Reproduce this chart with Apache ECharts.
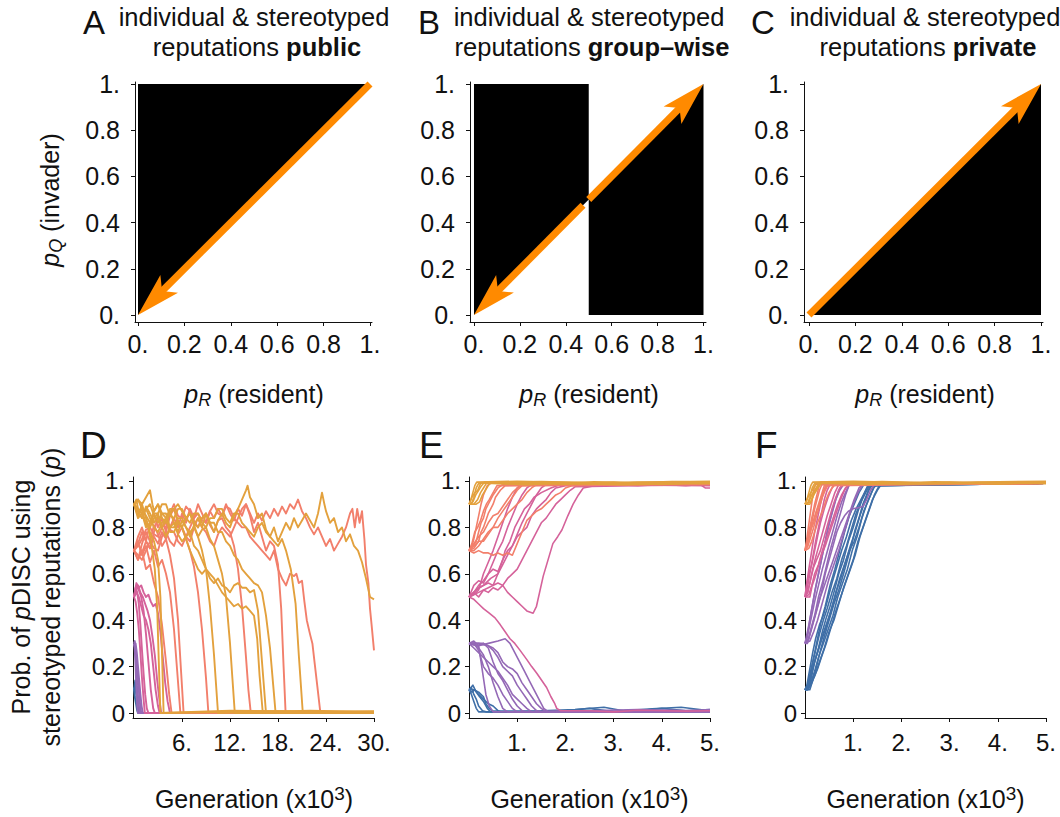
<!DOCTYPE html>
<html><head><meta charset="utf-8">
<script src="https://cdn.jsdelivr.net/npm/echarts@6/dist/echarts.min.js"></script>
<style>html,body{margin:0;padding:0;background:#fff}#c{width:1060px;height:817px}</style>
</head><body><div id="c"></div>
<script>
// ---------- tick values / labels ----------
const topTicks = [0, 0.2, 0.4, 0.6, 0.8, 1];
const topTickLabels = ['0.', '0.2', '0.4', '0.6', '0.8', '1.'];
const botYTicks = [0, 0.2, 0.4, 0.6, 0.8, 1];
const botYLabels = ['0', '0.2', '0.4', '0.6', '0.8', '1.'];
const dXTicks = [6, 12, 18, 24, 30];
const dXLabels = ['6.', '12.', '18.', '24.', '30.'];
const efXTicks = [1, 2, 3, 4, 5];
const efXLabels = ['1.', '2.', '3.', '4.', '5.'];

// ---------- panels A-C: regions (polygons in data space) and arrows ----------
const regionsA = [[[0,0],[0,1],[1,1]]];
const regionsB = [[[0,0],[0,1],[0.5,1],[0.5,0.5]], [[0.5,0],[0.5,0.5],[1,1],[1,0]]];
const regionsC = [[[0,0],[1,1],[1,0]]];
const arrowsA = [[[1,1],[0,0]]];
const arrowsB = [[[0.475,0.475],[0,0]], [[0.5,0.5],[1,1]]];
const arrowsC = [[[0,0],[1,1]]];

// ---------- panel D (generation x10^3, 0-30) ----------
const D_blue = [
 [[0,0.1],[0.15,0.14],[0.3,0.1],[0.45,0.05],[0.6,0.02],[0.75,0],[30,0]],
 [[0,0.1],[0.1,0.07],[0.25,0.04],[0.4,0.01],[0.5,0],[30,0]],
 [[0,0.1],[0.2,0.12],[0.35,0.08],[0.5,0.03],[0.65,0],[30,0]],
 [[0,0.1],[0.1,0.11],[0.25,0.09],[0.4,0.06],[0.55,0.02],[0.7,0],[30,0]]
];
const D_purple = [
 [[0,0.3],[0.1,0.31],[0.2,0.26],[0.3,0.2],[0.4,0.12],[0.55,0.05],[0.7,0],[30,0]],
 [[0,0.3],[0.15,0.28],[0.3,0.24],[0.45,0.18],[0.6,0.1],[0.75,0.04],[0.9,0],[30,0]],
 [[0,0.3],[0.1,0.27],[0.2,0.2],[0.3,0.1],[0.4,0.03],[0.5,0],[30,0]],
 [[0,0.3],[0.2,0.3],[0.35,0.26],[0.5,0.2],[0.65,0.14],[0.8,0.08],[0.95,0.03],[1.1,0],[30,0]]
];
const D_pink = [
 [[0,0.5],[0.2,0.54],[0.4,0.52],[0.6,0.47],[0.8,0.38],[1,0.27],[1.2,0.17],[1.4,0.08],[1.6,0.02],[1.8,0],[30,0]],
 [[0,0.5],[0.3,0.55],[0.6,0.53],[0.9,0.5],[1.2,0.44],[1.5,0.34],[1.8,0.22],[2.1,0.1],[2.4,0.02],[2.6,0],[30,0]],
 [[0,0.5],[0.25,0.53],[0.5,0.55],[0.8,0.52],[1.1,0.5],[1.4,0.47],[1.7,0.44],[2,0.4],[2.3,0.33],[2.6,0.25],[2.9,0.14],[3.2,0.05],[3.4,0],[30,0]],
 [[0,0.5],[0.3,0.56],[0.6,0.54],[0.9,0.55],[1.2,0.52],[1.5,0.5],[1.8,0.51],[2.1,0.48],[2.4,0.46],[2.7,0.47],[3,0.43],[3.3,0.35],[3.6,0.24],[3.9,0.13],[4.2,0.05],[4.5,0],[30,0]],
 [[0,0.5],[0.2,0.48],[0.4,0.43],[0.6,0.36],[0.8,0.26],[1,0.15],[1.2,0.06],[1.35,0],[30,0]],
 [[0,0.5],[0.3,0.52],[0.6,0.5],[0.9,0.46],[1.2,0.42],[1.5,0.4],[1.8,0.36],[2.1,0.3],[2.4,0.2],[2.7,0.1],[3,0.03],[3.2,0],[30,0]]
];
const D_salmon = [
 [[0,0.7],[0.5,0.66],[1,0.7],[1.5,0.62],[2,0.64],[2.5,0.56],[3,0.5],[3.5,0.38],[4,0.22],[4.4,0.08],[4.7,0],[30,0]],
 [[0,0.7],[0.5,0.74],[1,0.68],[1.5,0.72],[2,0.65],[2.5,0.7],[3,0.63],[3.5,0.66],[4,0.6],[4.5,0.52],[5,0.36],[5.4,0.18],[5.8,0],[30,0]],
 [[0,0.7],[0.5,0.66],[1,0.73],[1.5,0.78],[2,0.74],[2.5,0.81],[3,0.77],[3.5,0.72],[4,0.75],[4.5,0.68],[5,0.58],[5.5,0.4],[5.9,0.17],[6.2,0],[30,0]],
 [[0,0.7],[0.5,0.76],[1,0.8],[1.5,0.74],[2,0.82],[2.5,0.86],[3,0.8],[3.5,0.84],[4,0.78],[4.5,0.85],[5,0.88],[5.5,0.82],[6,0.8],[6.5,0.75],[7,0.7],[7.5,0.63],[8,0.52],[8.5,0.36],[9,0.15],[9.3,0],[30,0]],
 [[0,0.7],[0.5,0.73],[1,0.78],[1.5,0.74],[2,0.71],[2.5,0.78],[3,0.85],[3.5,0.81],[4,0.8],[4.5,0.86],[5,0.9],[5.5,0.85],[6,0.84],[6.5,0.89],[7,0.87],[7.5,0.83],[8,0.8],[8.5,0.84],[9,0.86],[9.5,0.81],[10,0.78],[10.5,0.83],[11,0.84],[11.5,0.8],[12,0.78],[12.5,0.72],[13,0.62],[13.5,0.46],[14,0.24],[14.3,0.1],[14.6,0],[30,0]],
 [[0,0.7],[0.5,0.68],[1,0.66],[1.5,0.7],[2,0.74],[2.5,0.71],[3,0.7],[3.5,0.76],[4,0.78],[4.5,0.74],[5,0.72],[5.5,0.77],[6,0.8],[6.5,0.76],[7,0.74],[7.5,0.8],[8,0.84],[8.5,0.8],[9,0.78],[9.5,0.74],[10,0.72],[10.5,0.77],[11,0.8],[11.5,0.78],[12,0.76],[12.5,0.8],[13,0.84],[13.5,0.88],[14,0.9],[14.5,0.85],[15,0.78],[15.5,0.82],[16,0.76],[16.5,0.7],[17,0.74],[17.5,0.72],[18,0.64],[18.4,0.45],[18.7,0.2],[18.95,0],[30,0]],
 [[0,0.7],[0.5,0.72],[1,0.75],[1.5,0.79],[2,0.8],[2.5,0.77],[3,0.76],[3.5,0.8],[4,0.82],[4.5,0.79],[5,0.78],[5.5,0.74],[6,0.72],[6.5,0.76],[7,0.8],[7.5,0.84],[8,0.86],[8.5,0.83],[9,0.82],[9.5,0.87],[10,0.9],[10.5,0.86],[11,0.85],[11.5,0.89],[12,0.88],[12.5,0.84],[13,0.82],[13.5,0.8],[14,0.8],[14.5,0.76],[15,0.74],[15.5,0.72],[16,0.7],[16.5,0.68],[17,0.66],[17.5,0.7],[18,0.62],[18.5,0.58],[19,0.55],[19.5,0.6],[20,0.59],[20.3,0.6],[20.6,0.56],[21,0.57],[21.3,0.48],[21.6,0.4],[22,0.34],[22.3,0.3],[22.6,0.21],[22.9,0.12],[23.3,0],[30,0]],
 [[0,0.7],[0.5,0.73],[1,0.69],[1.5,0.74],[2,0.71],[2.5,0.76],[3,0.73],[3.5,0.78],[4,0.75],[4.5,0.8],[5,0.84],[5.5,0.8],[6,0.86],[6.5,0.82],[7,0.88],[7.5,0.84],[8,0.9],[8.5,0.86],[9,0.82],[9.5,0.87],[10,0.84],[10.5,0.88],[11,0.85],[11.5,0.9],[12,0.86],[12.5,0.83],[13,0.88],[13.5,0.85],[14,0.9],[14.5,0.86],[15,0.82],[15.5,0.86],[16,0.83],[16.5,0.87],[17,0.84],[17.5,0.88],[18,0.85],[18.5,0.89],[19,0.86],[19.5,0.9],[20,0.88],[20.5,0.92],[21,0.87],[21.5,0.84],[22,0.8],[22.5,0.77],[23,0.8],[23.5,0.76],[24,0.72],[24.5,0.75],[25,0.7],[25.5,0.73],[26,0.76],[26.5,0.8],[27,0.86],[27.3,0.88],[27.6,0.8],[27.9,0.88],[28.2,0.82],[28.5,0.87],[28.8,0.75],[29,0.64],[29.3,0.56],[29.5,0.45],[29.7,0.38],[30,0.27]]
];
const D_orange = [
 [[0,0.9],[0.3,0.92],[0.6,0.86],[1,0.88],[1.4,0.82],[1.8,0.8],[2.2,0.72],[2.6,0.62],[2.9,0.45],[3.1,0.22],[3.3,0],[12,0.01],[30,0.005]],
 [[0,0.9],[0.5,0.85],[1,0.9],[1.5,0.84],[2,0.78],[2.5,0.74],[3,0.66],[3.3,0.5],[3.5,0.26],[3.7,0],[18,0.008],[30,0]],
 [[0,0.9],[0.5,0.87],[1,0.84],[1.5,0.88],[2,0.9],[2.5,0.85],[3,0.82],[3.5,0.86],[4,0.86],[4.5,0.8],[5,0.8],[5.5,0.84],[6,0.84],[6.5,0.8],[7,0.78],[7.5,0.8],[8,0.76],[8.5,0.7],[9,0.62],[9.5,0.46],[10,0.25],[10.5,0],[22,0.01],[30,0.004]],
 [[0,0.9],[0.5,0.92],[1,0.88],[1.5,0.85],[2,0.82],[2.5,0.87],[3,0.9],[3.5,0.86],[4,0.84],[4.5,0.88],[5,0.88],[5.5,0.83],[6,0.8],[6.5,0.84],[7,0.86],[7.5,0.81],[8,0.76],[8.5,0.79],[9,0.8],[9.5,0.75],[10,0.72],[10.5,0.66],[11,0.6],[11.5,0.5],[12,0.3],[12.3,0.15],[12.6,0],[30,0]],
 [[0,0.9],[0.5,0.88],[1,0.86],[1.5,0.82],[2,0.8],[2.5,0.84],[3,0.86],[3.5,0.8],[4,0.76],[4.5,0.8],[5,0.82],[5.5,0.77],[6,0.74],[6.5,0.76],[7,0.78],[7.5,0.72],[8,0.7],[8.5,0.66],[9,0.62],[9.5,0.6],[10,0.58],[10.5,0.55],[11,0.52],[11.5,0.5],[12,0.48],[12.5,0.46],[13,0.47],[13.5,0.45],[14,0.46],[14.5,0.44],[15,0.42],[15.4,0.32],[15.7,0.16],[16.1,0],[30,0.008]],
 [[0,0.9],[0.5,0.84],[1,0.86],[1.5,0.88],[2,0.84],[2.5,0.8],[3,0.78],[3.5,0.82],[4,0.84],[4.5,0.78],[5,0.78],[5.5,0.82],[6,0.8],[6.5,0.75],[7,0.7],[7.5,0.66],[8,0.62],[8.5,0.6],[9,0.62],[9.5,0.58],[10,0.56],[10.5,0.58],[11,0.55],[11.5,0.54],[12,0.52],[12.5,0.55],[13,0.56],[13.5,0.54],[14,0.54],[14.5,0.52],[15,0.53],[15.5,0.44],[16,0.22],[16.5,0],[30,0]],
 [[0,0.9],[0.5,0.92],[1,0.9],[1.5,0.93],[2,0.96],[2.3,0.9],[2.5,0.87],[3,0.9],[3.5,0.84],[4,0.82],[4.5,0.86],[5,0.88],[5.5,0.9],[6,0.87],[6.5,0.84],[7,0.86],[7.5,0.82],[8,0.8],[8.5,0.84],[9,0.86],[9.5,0.82],[10,0.82],[10.5,0.78],[11,0.78],[11.5,0.74],[12,0.72],[12.5,0.68],[13,0.66],[13.5,0.62],[14,0.6],[14.5,0.58],[15,0.56],[15.5,0.55],[16,0.52],[16.5,0.42],[17,0.28],[17.4,0.12],[17.7,0],[30,0.006]],
 [[0,0.9],[0.5,0.88],[1,0.86],[1.5,0.8],[2,0.82],[2.5,0.86],[3,0.86],[3.5,0.9],[4,0.9],[4.5,0.85],[5,0.84],[5.5,0.88],[6,0.88],[6.5,0.84],[7,0.82],[7.5,0.86],[8,0.86],[8.5,0.82],[9,0.8],[9.5,0.84],[10,0.84],[10.5,0.88],[11,0.88],[11.5,0.84],[12,0.82],[12.5,0.86],[13,0.86],[13.5,0.82],[14,0.8],[14.5,0.78],[15,0.76],[15.5,0.8],[16,0.82],[16.5,0.78],[17,0.76],[17.5,0.74],[18,0.72],[18.5,0.75],[19,0.7],[19.6,0.62],[20.2,0.47],[20.6,0.25],[21.1,0],[30,0]],
 [[0,0.9],[0.5,0.87],[1,0.84],[1.5,0.89],[2,0.86],[2.5,0.82],[3,0.85],[3.5,0.8],[4,0.83],[4.5,0.87],[5,0.82],[5.5,0.78],[6,0.83],[6.5,0.8],[7,0.76],[7.5,0.81],[8,0.84],[8.5,0.8],[9,0.86],[9.5,0.82],[10,0.78],[10.5,0.83],[11,0.86],[11.5,0.82],[12,0.8],[12.5,0.85],[13,0.88],[13.5,0.92],[14,0.96],[14.2,0.98],[14.5,0.93],[15,0.9],[15.5,0.84],[16,0.86],[16.5,0.79],[17,0.76],[17.5,0.8],[18,0.74],[18.5,0.78],[19,0.82],[19.5,0.79],[20,0.84],[20.5,0.8],[21,0.83],[21.5,0.86],[22,0.83],[22.5,0.8],[23,0.86],[23.5,0.95],[23.8,0.9],[24,0.87],[24.5,0.82],[25,0.84],[25.5,0.78],[26,0.8],[26.5,0.74],[27,0.77],[27.5,0.72],[28,0.7],[28.5,0.65],[29,0.58],[29.5,0.5],[30,0.49]]
];

// ---------- panel E (generation x10^3, 0-5) ----------
const E_blue = [
 [[0,0.1],[0.05,0.11],[0.1,0.08],[0.15,0.06],[0.2,0.03],[0.28,0.01],[0.35,0.005],[1,0.005],[2,0.01],[2.5,0.02],[3,0.005],[3.5,0.01],[4,0.02],[4.5,0.01],[5,0.015]],
 [[0,0.1],[0.08,0.12],[0.15,0.09],[0.22,0.07],[0.3,0.05],[0.38,0.02],[0.45,0.005],[5,0.005]],
 [[0,0.1],[0.06,0.09],[0.12,0.1],[0.2,0.08],[0.3,0.06],[0.4,0.04],[0.5,0.03],[0.6,0.01],[0.68,0.003],[5,0.003]],
 [[0,0.1],[0.05,0.08],[0.1,0.05],[0.15,0.02],[0.2,0.005],[5,0.003]],
 [[0,0.1],[0.1,0.1],[0.2,0.09],[0.3,0.07],[0.35,0.04],[0.42,0.02],[0.5,0.008],[1.5,0.01],[2.2,0.015],[2.8,0.025],[3.2,0.01],[3.8,0.018],[4.4,0.025],[5,0.01]]
];
const E_purple = [
 [[0,0.3],[0.1,0.31],[0.2,0.29],[0.25,0.22],[0.3,0.15],[0.35,0.08],[0.42,0.03],[0.5,0.005],[5,0.005]],
 [[0,0.3],[0.1,0.3],[0.2,0.28],[0.3,0.25],[0.4,0.2],[0.5,0.13],[0.6,0.07],[0.7,0.02],[0.8,0.005],[5,0.008]],
 [[0,0.3],[0.15,0.29],[0.3,0.3],[0.4,0.28],[0.5,0.22],[0.6,0.17],[0.7,0.14],[0.8,0.1],[0.9,0.06],[1,0.03],[1.1,0.01],[1.2,0.005],[2,0.01],[3,0.005],[4,0.012],[5,0.01]],
 [[0,0.3],[0.2,0.3],[0.4,0.29],[0.5,0.27],[0.6,0.24],[0.7,0.2],[0.8,0.18],[0.9,0.16],[1,0.12],[1.1,0.09],[1.2,0.06],[1.3,0.03],[1.4,0.01],[1.5,0.005],[5,0.005]],
 [[0,0.3],[0.2,0.29],[0.4,0.3],[0.6,0.31],[0.75,0.32],[0.85,0.3],[0.95,0.26],[1.05,0.22],[1.15,0.18],[1.25,0.14],[1.35,0.1],[1.45,0.06],[1.55,0.02],[1.65,0.005],[2.5,0.01],[3.5,0.015],[4.5,0.01],[5,0.015]],
 [[0,0.3],[0.1,0.28],[0.2,0.26],[0.3,0.24],[0.4,0.22],[0.5,0.2],[0.6,0.18],[0.7,0.15],[0.8,0.12],[0.9,0.08],[1,0.06],[1.1,0.04],[1.2,0.02],[1.3,0.005],[5,0.005]],
 [[0,0.3],[0.1,0.3],[0.2,0.27],[0.3,0.2],[0.4,0.17],[0.5,0.15],[0.6,0.12],[0.7,0.08],[0.8,0.05],[0.9,0.02],[1,0.005],[5,0.003]],
 [[0,0.3],[0.3,0.3],[0.5,0.28],[0.6,0.26],[0.7,0.22],[0.8,0.2],[0.9,0.19],[1,0.17],[1.1,0.13],[1.2,0.1],[1.3,0.07],[1.4,0.04],[1.5,0.02],[1.6,0.005],[5,0.005]]
];
const E_pink = [
 [[0,0.5],[0.1,0.49],[0.2,0.47],[0.3,0.45],[0.42,0.43],[0.54,0.41],[0.65,0.38],[0.75,0.35],[0.85,0.32],[0.95,0.3],[1.06,0.27],[1.2,0.23],[1.3,0.2],[1.41,0.17],[1.51,0.14],[1.61,0.11],[1.7,0.07],[1.78,0.04],[1.82,0.02],[1.9,0.01],[2.5,0.01],[3,0.005],[3.5,0.012],[4,0.01],[4.5,0.008],[5,0.01]],
 [[0,0.5],[0.1,0.52],[0.2,0.5],[0.3,0.53],[0.4,0.52],[0.5,0.54],[0.6,0.53],[0.7,0.55],[0.8,0.52],[0.9,0.5],[1,0.48],[1.1,0.46],[1.2,0.44],[1.33,0.43],[1.4,0.46],[1.54,0.59],[1.64,0.66],[1.74,0.73],[1.84,0.76],[1.93,0.79],[2.05,0.85],[2.16,0.9],[2.27,0.94],[2.37,0.97],[2.6,0.98],[3,0.985],[3.5,0.98],[4,0.985],[4.5,0.98],[4.8,0.985],[4.9,0.97],[5,0.97]],
 [[0,0.5],[0.1,0.52],[0.2,0.55],[0.3,0.57],[0.4,0.6],[0.5,0.65],[0.6,0.7],[0.7,0.74],[0.8,0.8],[0.9,0.85],[1,0.9],[1.1,0.94],[1.2,0.97],[1.3,0.985],[5,0.985]],
 [[0,0.5],[0.15,0.53],[0.3,0.55],[0.45,0.58],[0.6,0.6],[0.7,0.64],[0.8,0.68],[0.9,0.72],[1,0.77],[1.1,0.82],[1.2,0.86],[1.3,0.9],[1.4,0.94],[1.5,0.97],[1.6,0.985],[5,0.99]],
 [[0,0.5],[0.2,0.54],[0.4,0.56],[0.5,0.55],[0.6,0.6],[0.7,0.66],[0.75,0.7],[0.85,0.74],[0.95,0.8],[1.05,0.84],[1.15,0.88],[1.25,0.9],[1.35,0.93],[1.5,0.95],[1.7,0.97],[1.9,0.985],[5,0.98]],
 [[0,0.5],[0.1,0.55],[0.2,0.57],[0.3,0.56],[0.4,0.6],[0.5,0.62],[0.6,0.61],[0.7,0.66],[0.8,0.7],[0.9,0.72],[1,0.76],[1.1,0.78],[1.2,0.8],[1.3,0.85],[1.4,0.88],[1.5,0.9],[1.6,0.92],[1.7,0.95],[1.8,0.97],[2,0.98],[5,0.985]],
 [[0,0.5],[0.2,0.52],[0.4,0.54],[0.6,0.56],[0.7,0.55],[0.8,0.58],[0.9,0.6],[1,0.62],[1.1,0.66],[1.2,0.7],[1.3,0.74],[1.4,0.78],[1.5,0.82],[1.6,0.84],[1.7,0.87],[1.8,0.9],[1.9,0.92],[2,0.94],[2.1,0.96],[2.2,0.975],[5,0.985]],
 [[0,0.5],[0.1,0.51],[0.2,0.53],[0.3,0.6],[0.4,0.65],[0.5,0.7],[0.6,0.76],[0.7,0.82],[0.8,0.88],[0.9,0.93],[1,0.97],[1.1,0.985],[5,0.99]]
];
const E_salmon = [
 [[0,0.7],[0.05,0.71],[0.1,0.75],[0.15,0.8],[0.2,0.85],[0.25,0.9],[0.3,0.94],[0.38,0.98],[0.45,0.99],[5,0.99]],
 [[0,0.7],[0.08,0.72],[0.15,0.74],[0.2,0.78],[0.25,0.82],[0.3,0.84],[0.35,0.88],[0.4,0.9],[0.5,0.94],[0.6,0.97],[0.7,0.985],[5,0.99]],
 [[0,0.7],[0.1,0.71],[0.2,0.74],[0.25,0.78],[0.3,0.8],[0.35,0.83],[0.4,0.86],[0.45,0.88],[0.5,0.9],[0.55,0.93],[0.65,0.96],[0.75,0.98],[5,0.985]],
 [[0,0.7],[0.1,0.7],[0.2,0.72],[0.3,0.75],[0.4,0.78],[0.5,0.8],[0.6,0.84],[0.7,0.87],[0.8,0.9],[0.9,0.93],[1,0.96],[1.1,0.98],[5,0.99]],
 [[0,0.7],[0.06,0.73],[0.12,0.78],[0.18,0.8],[0.24,0.83],[0.3,0.87],[0.36,0.9],[0.42,0.92],[0.5,0.95],[0.58,0.98],[5,0.99]],
 [[0,0.7],[0.1,0.69],[0.2,0.7],[0.3,0.69],[0.4,0.69],[0.5,0.68],[0.6,0.69],[0.7,0.68],[0.8,0.69],[0.9,0.68],[1,0.73],[1.1,0.78],[1.2,0.83],[1.3,0.85],[1.4,0.87],[1.5,0.88],[1.6,0.9],[1.7,0.92],[1.8,0.94],[1.9,0.95],[2,0.97],[2.13,0.98],[5,0.99]],
 [[0,0.7],[0.1,0.73],[0.2,0.76],[0.3,0.78],[0.4,0.82],[0.5,0.85],[0.6,0.86],[0.7,0.89],[0.8,0.92],[0.9,0.95],[1,0.97],[1.1,0.985],[5,0.985]],
 [[0,0.7],[0.1,0.72],[0.2,0.74],[0.3,0.74],[0.4,0.77],[0.5,0.8],[0.6,0.8],[0.7,0.83],[0.8,0.86],[0.9,0.88],[1,0.9],[1.1,0.92],[1.2,0.95],[1.3,0.97],[1.4,0.985],[5,0.99]]
];
const E_orange = [
 [[0,0.9],[0.05,0.9],[0.1,0.93],[0.15,0.97],[0.2,0.99],[1.5,0.998],[3,0.99],[4.2,0.998],[5,0.995]],
 [[0,0.9],[0.08,0.91],[0.14,0.94],[0.2,0.96],[0.26,0.98],[0.32,0.995],[2,0.986],[3.5,0.994],[5,0.988]],
 [[0,0.9],[0.1,0.9],[0.18,0.92],[0.24,0.95],[0.3,0.97],[0.36,0.99],[1.2,0.984],[2.6,0.997],[4,0.986],[5,0.995]],
 [[0,0.9],[0.04,0.92],[0.08,0.95],[0.12,0.98],[0.16,0.995],[1,0.999],[2.5,0.992],[5,0.999]],
 [[0,0.9],[0.15,0.9],[0.22,0.91],[0.28,0.94],[0.34,0.96],[0.4,0.98],[0.45,0.995],[1.8,0.99],[3.2,0.984],[5,0.99]],
 [[0,0.9],[0.06,0.93],[0.12,0.95],[0.18,0.96],[0.24,0.99],[1,0.995],[2,0.99],[3,0.995],[4,0.985],[4.5,0.99],[5,0.995]]
];

// ---------- panel F (generation x10^3, 0-5) ----------
const F_blue = [
 [[0,0.1],[0.06,0.12],[0.12,0.18],[0.18,0.24],[0.26,0.32],[0.34,0.4],[0.42,0.46],[0.52,0.55],[0.62,0.62],[0.72,0.7],[0.82,0.78],[0.92,0.85],[1.02,0.9],[1.12,0.95],[1.22,0.985],[5,0.99]],
 [[0,0.1],[0.08,0.11],[0.14,0.16],[0.2,0.22],[0.28,0.28],[0.36,0.35],[0.44,0.41],[0.52,0.46],[0.6,0.52],[0.7,0.6],[0.8,0.66],[0.9,0.74],[1,0.8],[1.1,0.87],[1.2,0.93],[1.3,0.98],[5,0.99]],
 [[0,0.1],[0.1,0.1],[0.16,0.14],[0.24,0.2],[0.32,0.27],[0.4,0.33],[0.5,0.4],[0.6,0.47],[0.7,0.53],[0.8,0.6],[0.88,0.66],[0.96,0.72],[1.04,0.79],[1.12,0.84],[1.2,0.9],[1.28,0.94],[1.36,0.98],[5,0.99]],
 [[0,0.1],[0.06,0.1],[0.12,0.13],[0.2,0.18],[0.28,0.24],[0.38,0.3],[0.48,0.36],[0.58,0.42],[0.68,0.5],[0.78,0.56],[0.88,0.62],[0.98,0.7],[1.08,0.76],[1.18,0.84],[1.28,0.9],[1.38,0.95],[1.46,0.985],[5,0.99]],
 [[0,0.1],[0.1,0.12],[0.2,0.16],[0.3,0.22],[0.4,0.28],[0.5,0.35],[0.6,0.4],[0.7,0.47],[0.8,0.54],[0.9,0.6],[1,0.66],[1.1,0.74],[1.2,0.8],[1.3,0.86],[1.4,0.92],[1.5,0.96],[1.58,0.985],[5,0.99]],
 [[0,0.1],[0.04,0.12],[0.1,0.19],[0.16,0.26],[0.22,0.32],[0.3,0.38],[0.38,0.42],[0.46,0.48],[0.56,0.56],[0.66,0.63],[0.76,0.7],[0.86,0.76],[0.96,0.83],[1.06,0.88],[1.16,0.92],[1.26,0.96],[1.34,0.985],[5,0.99]],
 [[0,0.1],[0.08,0.12],[0.16,0.19],[0.24,0.25],[0.32,0.3],[0.42,0.36],[0.52,0.43],[0.62,0.5],[0.72,0.58],[0.82,0.64],[0.92,0.7],[1.02,0.74],[1.12,0.8],[1.22,0.87],[1.32,0.92],[1.42,0.97],[1.5,0.985],[5,0.99]],
 [[0,0.1],[0.05,0.1],[0.1,0.15],[0.18,0.21],[0.26,0.26],[0.34,0.32],[0.44,0.38],[0.54,0.44],[0.64,0.52],[0.74,0.58],[0.84,0.65],[0.94,0.72],[1.04,0.78],[1.14,0.85],[1.24,0.91],[1.32,0.96],[1.4,0.985],[5,0.99]],
 [[0,0.1],[0.1,0.11],[0.18,0.15],[0.26,0.19],[0.34,0.24],[0.44,0.3],[0.54,0.37],[0.64,0.44],[0.74,0.5],[0.84,0.56],[0.94,0.62],[1.04,0.68],[1.14,0.76],[1.24,0.82],[1.34,0.88],[1.44,0.94],[1.54,0.98],[5,0.99]],
 [[0,0.1],[0.07,0.13],[0.14,0.2],[0.22,0.27],[0.3,0.34],[0.38,0.4],[0.46,0.45],[0.56,0.52],[0.66,0.58],[0.76,0.66],[0.86,0.72],[0.96,0.79],[1.06,0.86],[1.16,0.91],[1.26,0.95],[1.34,0.98],[5,0.99]]
];
const F_purple = [
 [[0,0.3],[0.04,0.32],[0.1,0.4],[0.16,0.47],[0.22,0.54],[0.3,0.62],[0.38,0.7],[0.46,0.78],[0.54,0.85],[0.62,0.91],[0.7,0.96],[0.78,0.985],[5,0.99]],
 [[0,0.3],[0.06,0.31],[0.12,0.36],[0.2,0.42],[0.28,0.5],[0.36,0.56],[0.44,0.63],[0.52,0.7],[0.6,0.76],[0.68,0.82],[0.76,0.88],[0.84,0.94],[0.92,0.985],[5,0.99]],
 [[0,0.3],[0.08,0.32],[0.16,0.38],[0.24,0.44],[0.32,0.5],[0.42,0.56],[0.52,0.62],[0.62,0.68],[0.72,0.74],[0.82,0.8],[0.92,0.86],[1.02,0.92],[1.12,0.97],[1.2,0.985],[5,0.99]],
 [[0,0.3],[0.05,0.3],[0.1,0.34],[0.18,0.4],[0.26,0.46],[0.34,0.52],[0.42,0.6],[0.5,0.66],[0.58,0.72],[0.66,0.78],[0.74,0.82],[0.82,0.85],[0.9,0.87],[1,0.88],[1.1,0.885],[1.2,0.89],[1.28,0.92],[1.36,0.96],[1.44,0.985],[5,0.99]],
 [[0,0.3],[0.03,0.33],[0.08,0.38],[0.14,0.45],[0.2,0.52],[0.26,0.58],[0.32,0.64],[0.4,0.72],[0.48,0.8],[0.56,0.86],[0.64,0.92],[0.72,0.96],[0.8,0.985],[5,0.99]],
 [[0,0.3],[0.1,0.31],[0.18,0.35],[0.26,0.4],[0.34,0.46],[0.42,0.52],[0.5,0.58],[0.6,0.64],[0.7,0.7],[0.8,0.77],[0.9,0.84],[1,0.9],[1.1,0.95],[1.2,0.985],[5,0.99]],
 [[0,0.3],[0.06,0.34],[0.12,0.4],[0.2,0.48],[0.28,0.55],[0.36,0.62],[0.44,0.68],[0.52,0.74],[0.6,0.8],[0.68,0.86],[0.76,0.91],[0.84,0.95],[0.92,0.985],[5,0.99]]
];
const F_pink = [
 [[0,0.5],[0.04,0.53],[0.1,0.6],[0.16,0.67],[0.22,0.74],[0.28,0.8],[0.34,0.86],[0.4,0.92],[0.46,0.96],[0.52,0.985],[5,0.99]],
 [[0,0.5],[0.05,0.52],[0.1,0.56],[0.16,0.62],[0.22,0.67],[0.3,0.73],[0.38,0.79],[0.46,0.85],[0.54,0.9],[0.62,0.95],[0.7,0.985],[5,0.99]],
 [[0,0.5],[0.08,0.51],[0.14,0.55],[0.2,0.6],[0.28,0.64],[0.36,0.7],[0.44,0.75],[0.52,0.8],[0.6,0.85],[0.68,0.9],[0.76,0.94],[0.84,0.97],[0.92,0.985],[5,0.99]],
 [[0,0.5],[0.03,0.55],[0.08,0.62],[0.14,0.7],[0.2,0.78],[0.26,0.84],[0.32,0.9],[0.38,0.95],[0.44,0.985],[5,0.99]],
 [[0,0.5],[0.06,0.52],[0.12,0.58],[0.18,0.63],[0.24,0.66],[0.32,0.7],[0.4,0.76],[0.48,0.82],[0.56,0.88],[0.64,0.93],[0.72,0.97],[0.8,0.985],[5,0.99]],
 [[0,0.5],[0.1,0.5],[0.15,0.55],[0.2,0.58],[0.26,0.62],[0.34,0.68],[0.42,0.72],[0.5,0.77],[0.58,0.82],[0.66,0.87],[0.74,0.92],[0.82,0.96],[0.9,0.985],[5,0.99]],
 [[0,0.5],[0.04,0.56],[0.08,0.6],[0.14,0.64],[0.2,0.7],[0.26,0.76],[0.32,0.82],[0.4,0.88],[0.48,0.93],[0.56,0.97],[0.62,0.985],[5,0.99]]
];
const F_salmon = [
 [[0,0.7],[0.03,0.74],[0.07,0.8],[0.11,0.86],[0.15,0.92],[0.19,0.97],[0.22,0.985],[5,0.99]],
 [[0,0.7],[0.05,0.73],[0.1,0.78],[0.15,0.83],[0.2,0.88],[0.25,0.92],[0.3,0.96],[0.35,0.985],[5,0.99]],
 [[0,0.7],[0.06,0.72],[0.12,0.76],[0.18,0.8],[0.24,0.85],[0.3,0.89],[0.36,0.93],[0.42,0.96],[0.48,0.985],[5,0.99]],
 [[0,0.7],[0.08,0.71],[0.14,0.74],[0.2,0.78],[0.26,0.82],[0.32,0.85],[0.38,0.88],[0.44,0.92],[0.5,0.95],[0.56,0.97],[0.62,0.985],[5,0.99]],
 [[0,0.7],[0.04,0.74],[0.08,0.78],[0.14,0.84],[0.2,0.9],[0.26,0.95],[0.3,0.985],[5,0.99]],
 [[0,0.7],[0.06,0.74],[0.12,0.79],[0.18,0.82],[0.24,0.87],[0.3,0.9],[0.36,0.94],[0.42,0.97],[0.46,0.985],[5,0.99]],
 [[0,0.7],[0.04,0.72],[0.1,0.77],[0.16,0.82],[0.22,0.86],[0.28,0.9],[0.34,0.94],[0.4,0.98],[5,0.99]]
];
const F_orange = [
 [[0,0.9],[0.05,0.9],[0.1,0.93],[0.15,0.97],[0.2,0.99],[1.6,0.998],[3,0.99],[4.4,0.997],[5,0.995]],
 [[0,0.9],[0.08,0.91],[0.14,0.94],[0.2,0.96],[0.26,0.98],[0.32,0.995],[2,0.986],[3.6,0.994],[5,0.988]],
 [[0,0.9],[0.1,0.9],[0.16,0.93],[0.22,0.96],[0.28,0.98],[0.32,0.99],[1.3,0.985],[2.7,0.997],[4,0.987],[5,0.995]],
 [[0,0.9],[0.04,0.92],[0.08,0.95],[0.12,0.98],[0.16,0.995],[1,0.999],[2.4,0.992],[5,0.999]],
 [[0,0.9],[0.06,0.93],[0.12,0.95],[0.18,0.97],[0.24,0.99],[1,0.995],[2,0.99],[3,0.995],[4,0.988],[5,0.995]],
 [[0,0.9],[0.12,0.91],[0.18,0.94],[0.24,0.96],[0.3,0.98],[0.36,0.995],[2.5,0.988],[5,0.99]]
];

// ---------- styles & layout ----------
const COL = {blue:'#3F6FA7', purple:'#9469B6', pink:'#D5629A', salmon:'#F27F6B', orange:'#E3A13D'};
const ARROW = '#FF8A00';
const FONT = 'Liberation Sans, Arial, Helvetica, sans-serif';
const GRIDS = [
  {left:135, top:82, width:237, height:240},
  {left:470, top:82, width:236, height:240},
  {left:804, top:82, width:239, height:240},
  {left:133, top:477, width:241, height:241},
  {left:469, top:477, width:241, height:241},
  {left:805, top:477, width:241, height:241}
];
const XR = [[-0.01293,1.00862],[-0.01739,1.0109],[-0.02155,1.00862],[-0.125,30],[0,5],[0,5]];
const YR = [[-0.0303,1.00866],[-0.0303,1.00866],[-0.0303,1.00866],[-0.02155,1.01724],[-0.02155,1.01724],[-0.02155,1.01724]];
const LINE_W = [0,0,0,1.9,1.6,1.6];

function fmt(ticks, labels) {
  return function (v) {
    for (let i = 0; i < ticks.length; i++) if (Math.abs(ticks[i] - v) < 1e-7) return labels[i];
    return '';
  };
}
function axis(kind, i, ticks, labels, margin, fs) {
  const r = kind === 'x' ? XR[i] : YR[i];
  return {
    type:'value', gridIndex:i, min:r[0], max:r[1],
    axisLine:{show:true, onZero:false, lineStyle:{color:'#111', width:1}},
    axisTick:{show:true, inside:false, length:4, customValues:ticks, lineStyle:{color:'#111', width:1}},
    axisLabel:{show:true, customValues:ticks, formatter:fmt(ticks, labels), margin:margin,
      fontSize:fs, fontFamily:FONT, color:'#111'},
    splitLine:{show:false}
  };
}
const xAxes = [
  axis('x',0,topTicks,topTickLabels,9,25), axis('x',1,topTicks,topTickLabels,9,25), axis('x',2,topTicks,topTickLabels,9,25),
  axis('x',3,dXTicks,dXLabels,12,24), axis('x',4,efXTicks,efXLabels,12,24), axis('x',5,efXTicks,efXLabels,12,24)
];
const yAxes = [
  axis('y',0,topTicks,topTickLabels,15,25), axis('y',1,topTicks,topTickLabels,15,25), axis('y',2,topTicks,topTickLabels,15,25),
  axis('y',3,botYTicks,botYLabels,8,24), axis('y',4,botYTicks,botYLabels,8,24), axis('y',5,botYTicks,botYLabels,8,24)
];

function regionSeries(gi, polys) {
  return {
    type:'custom', xAxisIndex:gi, yAxisIndex:gi, silent:true, animation:false, z:1,
    data: polys.map(p => p[0]),
    renderItem: function (params, api) {
      const poly = polys[params.dataIndex];
      return {type:'polygon', shape:{points: poly.map(v => api.coord(v))}, style:{fill:'#000'}};
    }
  };
}
function arrowSeries(gi, arrows) {
  return {
    type:'custom', xAxisIndex:gi, yAxisIndex:gi, silent:true, animation:false, z:3,
    data: arrows.map(a => a[1]),
    renderItem: function (params, api) {
      const a = arrows[params.dataIndex];
      const p0 = api.coord(a[0]), p1 = api.coord(a[1]);
      const dx = p1[0] - p0[0], dy = p1[1] - p0[1];
      const L = Math.hypot(dx, dy), ux = dx / L, uy = dy / L, nx = -uy, ny = ux;
      const headLen = 44, headW = 12.5, notch = 34;
      const bx = p1[0] - ux * headLen, by = p1[1] - uy * headLen;
      const kx = p1[0] - ux * notch, ky = p1[1] - uy * notch;
      return {type:'group', children:[
        {type:'line', shape:{x1:p0[0], y1:p0[1], x2:kx + ux*2, y2:ky + uy*2}, style:{stroke:ARROW, lineWidth:7, lineCap:'butt'}},
        {type:'polygon', shape:{points:[[p1[0],p1[1]],[bx + nx*headW, by + ny*headW],[kx,ky],[bx - nx*headW, by - ny*headW]]}, style:{fill:ARROW}}
      ]};
    }
  };
}
function lineSeries(gi, lines, color) {
  return lines.map(d => ({
    type:'line', xAxisIndex:gi, yAxisIndex:gi, data:d, showSymbol:false, symbol:'none',
    silent:true, animation:false, z:2, emphasis:{disabled:true},
    lineStyle:{color:color, width:LINE_W[gi], join:'round'}, itemStyle:{color:color}
  }));
}

const series = [].concat(
  regionSeries(0, regionsA), arrowSeries(0, arrowsA),
  regionSeries(1, regionsB), arrowSeries(1, arrowsB),
  regionSeries(2, regionsC), arrowSeries(2, arrowsC),
  lineSeries(3, D_blue, COL.blue), lineSeries(3, D_purple, COL.purple), lineSeries(3, D_pink, COL.pink),
  lineSeries(3, D_salmon, COL.salmon), lineSeries(3, D_orange, COL.orange),
  lineSeries(4, E_blue, COL.blue), lineSeries(4, E_purple, COL.purple), lineSeries(4, E_pink, COL.pink),
  lineSeries(4, E_salmon, COL.salmon), lineSeries(4, E_orange, COL.orange),
  lineSeries(5, F_blue, COL.blue), lineSeries(5, F_purple, COL.purple), lineSeries(5, F_pink, COL.pink),
  lineSeries(5, F_salmon, COL.salmon), lineSeries(5, F_orange, COL.orange)
);

// ---------- texts ----------
const panelLetters = ['A','B','C','D','E','F'];
const panelTitleBold = ['public','group\u2013wise','private'];
function txt(x, y, text, fs, opts) {
  const o = opts || {};
  return {
    type:'text', x:x, y:y, rotation:o.rotation || 0, silent:true, z:10,
    style:Object.assign({
      text:text, fontSize:fs, fontFamily:FONT, fill:'#111',
      align:o.align || 'center', verticalAlign:'middle',
      textAlign:o.align || 'center', textVerticalAlign:'middle',
      lineHeight:30,
      rich:{
        i:{fontStyle:'italic', fontSize:fs, fontFamily:FONT, fill:'#111', lineHeight:30},
        b:{fontWeight:'bold', fontSize:fs, fontFamily:FONT, fill:'#111', lineHeight:30},
        n:{fontSize:fs, fontFamily:FONT, fill:'#111', lineHeight:30},
        s:{fontStyle:'italic', fontSize:18, fontFamily:FONT, fill:'#111', lineHeight:20, verticalAlign:'bottom'},
        sup:{fontSize:19, fontFamily:FONT, fill:'#111', lineHeight:19, verticalAlign:'top'}
      }
    }, o.style || {})
  };
}
const topCenters = [254, 589, 925];
const botCenters = [254, 589.5, 925.5];
const graphics = [];
const letterPos = [[83,22],[418,22],[751,22],[80,445.5],[419,445.5],[755,445.5]];
panelLetters.forEach((L, i) => graphics.push(txt(letterPos[i][0], letterPos[i][1], L, i < 3 ? 33 : 37, {align:'left'})));
topCenters.forEach((cx, i) => {
  graphics.push(txt(cx, 17.2, 'individual & stereotyped', 25.5));
  graphics.push(txt(cx + 3, 47.2, '{n|reputations }{b|' + panelTitleBold[i] + '}', 25.5));
  graphics.push(txt(cx, 394, '{i|p}{s|R}{n| (resident)}', 25));
});
graphics.push(txt(50.3, 200, '{i|p}{s|Q}{n| (invader)}', 25, {rotation:Math.PI/2}));
graphics.push(txt(21.3, 597, '{n|Prob. of }{i|p}{n|DISC using}', 25, {rotation:Math.PI/2}));
graphics.push(txt(51.3, 597, '{n|stereotyped reputations (}{i|p}{n|)}', 25, {rotation:Math.PI/2}));
botCenters.forEach(cx => graphics.push(txt(cx, 799, '{n|Generation (x10}{sup|3}{n|)}', 25)));

const chart = echarts.init(document.getElementById('c'), null, {renderer:'svg', width:1060, height:817});
chart.setOption({
  animation:false,
  backgroundColor:'#fff',
  grid: GRIDS.map(g => Object.assign({containLabel:false, outerBoundsMode:'none'}, g)),
  xAxis: xAxes,
  yAxis: yAxes,
  series: series,
  graphic: graphics
});
</script>
</body></html>
